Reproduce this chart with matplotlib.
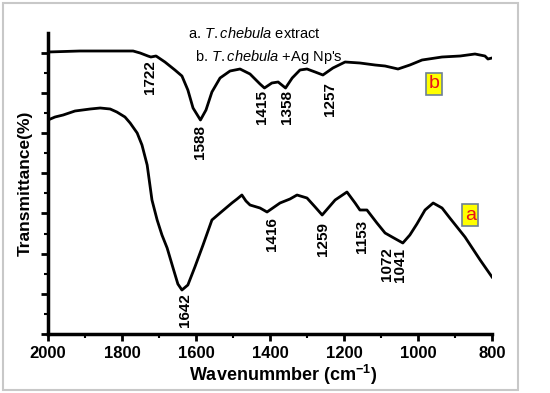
import matplotlib
matplotlib.use("Agg")
import matplotlib.pyplot as plt
from matplotlib.patches import Rectangle
from matplotlib.ticker import MultipleLocator, FixedLocator
import numpy as np

plt.rcParams['font.family'] = ['Liberation Sans', 'DejaVu Sans']
plt.rcParams['mathtext.fontset'] = 'custom'
plt.rcParams['mathtext.rm'] = 'Liberation Sans'
plt.rcParams['mathtext.it'] = 'Liberation Sans:italic'
plt.rcParams['mathtext.bf'] = 'Liberation Sans:bold'

# ---- data (wavenumber in cm-1, transmittance in arbitrary units) ----
wn_b = [2000, 1914, 1832, 1770, 1751, 1730, 1722, 1708, 1684, 1657, 1638, 1622,
        1608, 1588, 1573, 1557, 1535, 1508, 1481, 1454, 1427, 1415, 1395, 1378,
        1358, 1340, 1319, 1300, 1278, 1257, 1230, 1197, 1157, 1116, 1089, 1054,
        1022, 989, 935, 886, 846, 819, 811, 800]
tr_b = [282, 283, 283, 283, 281, 278, 277, 278, 272, 264, 258, 244,
        226, 214, 224, 242, 256, 263, 265, 260, 250, 246, 251, 252,
        246, 256, 264, 265, 262, 259, 266, 272, 271, 269, 268, 265,
        269, 274, 277, 278, 280, 278, 275, 276]

wn_a = [2000, 1981, 1959, 1927, 1886, 1859, 1832, 1814, 1792, 1778, 1759, 1746,
        1732, 1719, 1705, 1692, 1678, 1662, 1649, 1638, 1622, 1603, 1581, 1557,
        1535, 1503, 1489, 1476, 1465, 1454, 1427, 1408, 1373, 1346, 1327, 1300,
        1278, 1259, 1224, 1192, 1170, 1157, 1138, 1111, 1089, 1070, 1041, 1022,
        1003, 981, 959, 935, 914, 873, 832, 800]
tr_a = [214, 217, 219, 223, 225, 226, 225, 222, 217, 211, 201, 189,
        169, 134, 114, 99, 86, 66, 50, 44, 49, 67, 89, 114,
        121, 131, 135, 139, 133, 129, 126, 122, 131, 135, 139, 136,
        127, 119, 134, 142, 131, 124, 124, 111, 101, 97, 91, 99,
        110, 124, 131, 126, 116, 97, 74, 57]

peak_labels_b = ["1722", "1588", "1415", "1358", "1257"]
peak_labels_a = ["1642", "1416", "1259", "1153", "1072", "1041"]
xticks = [2000, 1800, 1600, 1400, 1200, 1000, 800]

# ---- figure ----
W, H = 550, 393
fig = plt.figure(figsize=(W / 100, H / 100), dpi=100)
fig.patch.set_facecolor('white')

def fx(px):
    return px / W

def fy(py):
    return 1 - py / H

ax = fig.add_axes([fx(48), fy(334), fx(492) - fx(48), fy(33) - fy(334)])
ax.set_xlim(2000, 800)
ax.set_ylim(0, 301)

ax.plot(wn_b, tr_b, color='black', lw=2.0, solid_joinstyle='round')
ax.plot(wn_a, tr_a, color='black', lw=2.0, solid_joinstyle='round')

for s in ['top', 'right']:
    ax.spines[s].set_visible(False)
for s in ['left', 'bottom']:
    ax.spines[s].set_linewidth(2.5)

ax.xaxis.set_major_locator(FixedLocator(xticks))
ax.xaxis.set_minor_locator(MultipleLocator(100))
ax.set_xticklabels([str(t) for t in xticks])
ax.yaxis.set_major_locator(FixedLocator(np.arange(0, 300, 40.2)))
ax.yaxis.set_minor_locator(FixedLocator(np.arange(20.1, 300, 40.2)))
ax.set_yticklabels([])
ax.tick_params(axis='both', which='major', direction='out', length=5, width=2)
ax.tick_params(axis='both', which='minor', direction='out', length=3, width=1.5)
ax.tick_params(axis='x', labelsize=12, pad=4)
for lab in ax.get_xticklabels():
    lab.set_fontweight('bold')

# peak annotations (rotated)
lab_font = dict(fontweight='bold', fontsize=11, rotation=90, ha='center', va='top')
pos_b = [(1724, 274), (1589, 209), (1422, 244), (1354, 244), (1238, 252)]
pos_a = [(1630, 41), (1395, 117), (1257, 112), (1151, 114), (1084, 87), (1049, 86)]
for t, (x, y) in zip(peak_labels_b, pos_b):
    ax.text(x, y, t, **lab_font)
for t, (x, y) in zip(peak_labels_a, pos_a):
    ax.text(x, y, t, **lab_font)

# curve tags
box = dict(boxstyle='square,pad=0.12', fc='#ffff00', ec='#6d8096', lw=1.2)
ax.text(957, 250, 'b', color='#e8101a', fontsize=14, ha='center', va='center', bbox=box)
ax.text(859, 119, 'a', color='#e8101a', fontsize=14, ha='center', va='center', bbox=box)

# legend-like texts
fig.text(fx(188), fy(33), r'a. $\it{T.chebula}$ extract', fontsize=10.5, va='center', ha='left')
fig.text(fx(195), fy(57), r"b. $\it{T.chebula}$ +Ag Np's", fontsize=10.5, va='center', ha='left')

# axis labels
fig.text(fx(283), fy(375), r'Wavenummber (cm$^{\mathbf{-1}}$)', fontsize=13, fontweight='bold',
         ha='center', va='center')
fig.text(fx(25), fy(183), 'Transmittance(%)', fontsize=12.5, fontweight='bold', rotation=90,
         ha='center', va='center')

# outer frame
fig.patches.append(Rectangle((fx(3), fy(390)), fx(518) - fx(3), fy(3) - fy(390),
                             transform=fig.transFigure, fill=False,
                             edgecolor='#c8c8c8', lw=1.5))

fig.savefig('out.png', dpi=100)
